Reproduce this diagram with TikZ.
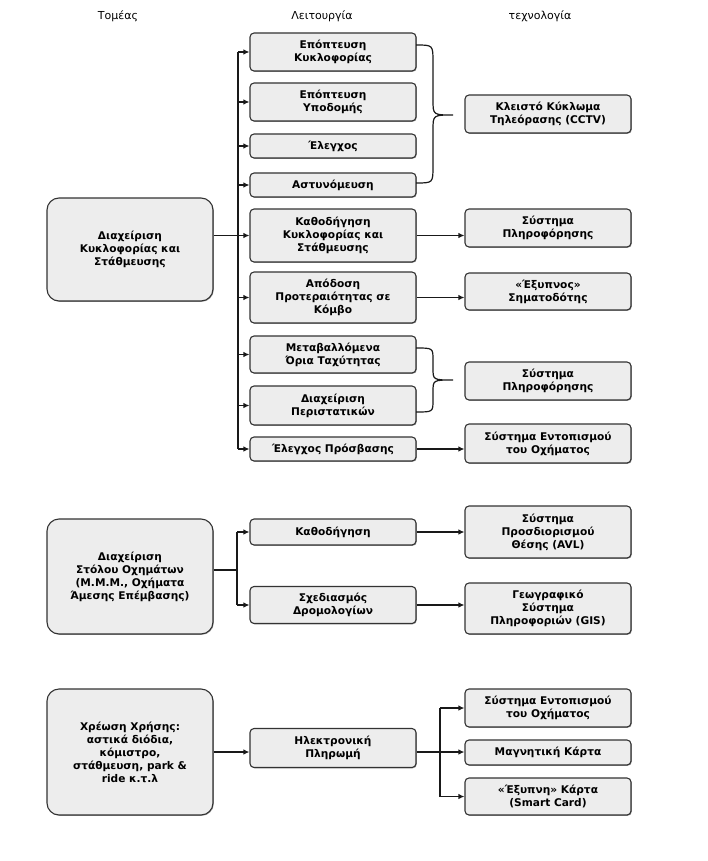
\documentclass[tikz,border=0pt]{standalone}
\usepackage{fontspec}
\setmainfont{DejaVu Sans}
\usetikzlibrary{arrows.meta,shadows,calc}
\tikzset{
  box/.style={rectangle, draw=black!80, line width=1.1pt, fill=black!7, rounded corners=4pt,
    minimum width=166pt, inner sep=0pt, align=center,
    font=\fontsize{10.6}{13}\selectfont\bfseries,
    drop shadow={shadow xshift=0.8pt, shadow yshift=-0.8pt, opacity=0.35, fill=black}},
  bigbox/.style={box, rounded corners=12pt},
  hdr/.style={font=\fontsize{11}{12}\selectfont, text=black},
  conn/.style={line width=1.3pt, black!90},
  arr/.style={conn, -{Latex[length=6pt,width=5.5pt]}},
  brace/.style={line width=1.2pt, black!90}
}
\begin{document}
\begin{tikzpicture}[x=1pt,y=-1pt]
\useasboundingbox (0,0) rectangle (707,861);
% headers
\node[hdr] (h1) at (118,16) {Τομέας};
\node[hdr] (h2) at (322,16) {Λειτουργία};
\node[hdr] (h3) at (540,16) {τεχνολογία};

% ---------- section 1
\node[bigbox, minimum height=103pt] (m1) at (130,249.5) {Διαχείριση\\Κυκλοφορίας και\\Στάθμευσης};
\node[box, minimum height=38pt] (a1) at (333,52) {Επόπτευση\\Κυκλοφορίας};
\node[box, minimum height=38pt] (a2) at (333,102) {Επόπτευση\\Υποδομής};
\node[box, minimum height=24pt] (a3) at (333,146) {Έλεγχος};
\node[box, minimum height=24pt] (a4) at (333,185) {Αστυνόμευση};
\node[box, minimum height=53pt] (a5) at (333,235.5) {Καθοδήγηση\\Κυκλοφορίας και\\Στάθμευσης};
\node[box, minimum height=51pt] (a6) at (333,297.5) {Απόδοση\\Προτεραιότητας σε\\Κόμβο};
\node[box, minimum height=37pt] (a7) at (333,354.5) {Μεταβαλλόμενα\\Όρια Ταχύτητας};
\node[box, minimum height=39pt] (a8) at (333,405.5) {Διαχείριση\\Περιστατικών};
\node[box, minimum height=24pt] (a9) at (333,449) {Έλεγχος Πρόσβασης};

\node[box, minimum height=38pt] (t1) at (548,114) {Κλειστό Κύκλωμα\\Τηλεόρασης (CCTV)};
\node[box, minimum height=38pt] (t2) at (548,228) {Σύστημα\\Πληροφόρησης};
\node[box, minimum height=37pt] (t3) at (548,291.5) {«Έξυπνος»\\Σηματοδότης};
\node[box, minimum height=38pt] (t4) at (548,381) {Σύστημα\\Πληροφόρησης};
\node[box, minimum height=39pt] (t5) at (548,443.5) {Σύστημα Εντοπισμού\\του Οχήματος};

\coordinate (v1) at (238,0);
\draw[conn] (v1 |- a1.west) -- (v1 |- a9.west);
\foreach \n in {a1,a2,a3,a4,a6,a7,a8,a9}
  \draw[arr] (v1 |- \n.west) -- (\n.west);
\draw[arr] (m1.east |- a5.west) -- (a5.west);
\draw[arr] (a5.east) -- (t2.west |- a5.east);
\draw[arr] (a6.east) -- (t3.west |- a6.east);
\draw[arr] (a9.east) -- (t5.west |- a9.east);

% braces
\draw[brace] (416,45) .. controls (433,45) .. (433,62) -- (433,100)
  .. controls (433,115) .. (453,115) .. controls (433,115) .. (433,130)
  -- (433,166) .. controls (433,183) .. (416,183);
\draw[brace] (416,348) .. controls (433,348) .. (433,360) -- (433,368)
  .. controls (433,380) .. (453,380) .. controls (433,380) .. (433,392)
  -- (433,400) .. controls (433,412) .. (416,412);

% ---------- section 2
\node[bigbox, minimum height=115pt] (m2) at (130,576.5) {Διαχείριση\\Στόλου Οχημάτων\\(Μ.Μ.Μ., Οχήματα\\Άμεσης Επέμβασης)};
\node[box, minimum height=26pt] (b1) at (333,532) {Καθοδήγηση};
\node[box, minimum height=37pt] (b2) at (333,605) {Σχεδιασμός\\Δρομολογίων};
\node[box, minimum height=52pt] (t6) at (548,532) {Σύστημα\\Προσδιορισμού\\Θέσης (AVL)};
\node[box, minimum height=51pt] (t7) at (548,608.5) {Γεωγραφικό\\Σύστημα\\Πληροφοριών (GIS)};

\coordinate (j2) at (237,570);
\draw[conn] (m2.east |- j2) -- (j2);
\draw[conn] (j2 |- b1.west) -- (j2 |- b2.west);
\draw[arr] (j2 |- b1.west) -- (b1.west);
\draw[arr] (j2 |- b2.west) -- (b2.west);
\draw[arr] (b1.east) -- (t6.west |- b1.east);
\draw[arr] (b2.east) -- (t7.west |- b2.east);

% ---------- section 3
\node[bigbox, minimum height=126pt] (m3) at (130,752) {Χρέωση Χρήσης:\\αστικά διόδια,\\κόμιστρο,\\στάθμευση, park \&\\ride κ.τ.λ};
\node[box, minimum height=39pt] (c1) at (333,748) {Ηλεκτρονική\\Πληρωμή};
\node[box, minimum height=38pt] (t8) at (548,708) {Σύστημα Εντοπισμού\\του Οχήματος};
\node[box, minimum height=25pt] (t9) at (548,752.5) {Μαγνητική Κάρτα};
\node[box, minimum height=37pt] (t10) at (548,796.5) {«Έξυπνη» Κάρτα\\(Smart Card)};

\coordinate (j3) at (440,752);
\draw[arr] (m3.east) -- (c1.west |- m3.east);
\draw[conn] (c1.east |- j3) -- (j3);
\draw[conn] (j3 |- t8.west) -- (j3 |- t10.west);
\draw[arr] (j3 |- t8.west) -- (t8.west);
\draw[arr] (j3) -- (t9.west |- j3);
\draw[arr] (j3 |- t10.west) -- (t10.west);
\end{tikzpicture}
\end{document}
